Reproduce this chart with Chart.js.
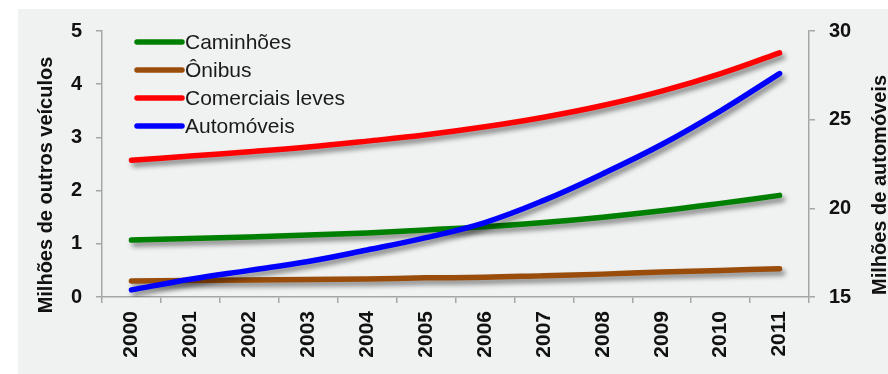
<!DOCTYPE html>
<html lang="pt-BR">
<head>
<meta charset="utf-8">
<title>Frota de veículos 2000-2011</title>
<script src="https://cdn.jsdelivr.net/npm/chart.js@4/dist/chart.umd.min.js"></script>
<style>
  html, body { margin: 0; padding: 0; background: #ffffff; }
  #wrap { width: 888px; height: 374px; }
</style>
</head>
<body>
<div id="wrap"><canvas id="frotaChart" width="888" height="374"></canvas></div>
<script>
// anos e séries (milhões de veículos)
const anos = ['2000', '2001', '2002', '2003', '2004', '2005', '2006', '2007', '2008', '2009', '2010', '2011'];
const caminhoes = [1.07, 1.10, 1.13, 1.165, 1.205, 1.26, 1.32, 1.40, 1.50, 1.62, 1.76, 1.91];
const onibus = [0.30, 0.31, 0.32, 0.33, 0.34, 0.36, 0.37, 0.40, 0.43, 0.47, 0.50, 0.53];
const comerciaisLeves = [2.57, 2.65, 2.73, 2.82, 2.93, 3.05, 3.20, 3.38, 3.60, 3.87, 4.20, 4.59];
const automoveis = [15.4, 16.0, 16.5, 17.0, 17.65, 18.35, 19.2, 20.45, 21.95, 23.6, 25.5, 27.6];

const nomes = ['Caminhões', 'Ônibus', 'Comerciais leves', 'Automóveis'];
const cores = ['#008000', '#9a4d0b', '#ff0000', '#0000ff'];

const eixoEsquerdo = { min: 0, max: 5, passo: 1 };
const eixoDireito = { min: 15, max: 30, passo: 5 };

const FONTE = "'Liberation Sans', Arial, Helvetica, sans-serif";
const CINZA_EIXO = '#a6a6a6';

// fundo cinza claro atrás do gráfico
const fundoPlugin = {
  id: 'fundo',
  beforeDraw(chart) {
    const ctx = chart.ctx;
    ctx.save();
    ctx.fillStyle = '#f0f1f1';
    ctx.fillRect(18, 9, chart.width - 18, chart.height - 9);
    ctx.restore();
  },
};

// sombra projetada sob cada linha
const sombraPlugin = {
  id: 'sombra',
  beforeDatasetDraw(chart) {
    const ctx = chart.ctx;
    ctx.save();
    ctx.shadowColor = 'rgba(0, 0, 0, 0.45)';
    ctx.shadowBlur = 5;
    ctx.shadowOffsetX = 3;
    ctx.shadowOffsetY = 4;
  },
  afterDatasetDraw(chart) {
    chart.ctx.restore();
  },
};

// legenda dentro da área do gráfico e títulos dos eixos
const legendaPlugin = {
  id: 'legendaInterna',
  afterDraw(chart) {
    const ctx = chart.ctx;
    const area = chart.chartArea;
    ctx.save();

    chart.data.datasets.forEach((ds, i) => {
      const y = area.top + 11 + i * 28;
      const x0 = area.left + 35;
      ctx.strokeStyle = ds.borderColor;
      ctx.lineWidth = 5.5;
      ctx.lineCap = 'round';
      ctx.beginPath();
      ctx.moveTo(x0, y);
      ctx.lineTo(x0 + 45, y);
      ctx.stroke();

      ctx.fillStyle = '#1a1a1a';
      ctx.font = `21px ${FONTE}`;
      ctx.textAlign = 'left';
      ctx.textBaseline = 'middle';
      ctx.fillText(ds.label, x0 + 48, y + 1);
    });

    const meioY = (area.top + area.bottom) / 2 + 21;
    ctx.fillStyle = '#111111';
    ctx.font = `bold 20px ${FONTE}`;
    ctx.textAlign = 'center';
    ctx.textBaseline = 'middle';

    ctx.save();
    ctx.translate(46, meioY);
    ctx.rotate(-Math.PI / 2);
    ctx.fillText('Milhões de outros veículos', 0, 0);
    ctx.restore();

    ctx.save();
    ctx.translate(880, meioY);
    ctx.rotate(-Math.PI / 2);
    ctx.fillText('Milhões de automóveis', 0, 0);
    ctx.restore();

    ctx.restore();
  },
};

const series = [caminhoes, onibus, comerciaisLeves, automoveis];

const datasets = series.map((valores, i) => ({
  label: nomes[i],
  data: valores,
  borderColor: cores[i],
  backgroundColor: cores[i],
  borderWidth: 5.5,
  borderCapStyle: 'round',
  borderJoinStyle: 'round',
  pointRadius: 0,
  tension: 0.4,
  yAxisID: i === 3 ? 'yDir' : 'yEsq',
  order: i === 3 ? 0 : i + 1, // automóveis por cima das demais
}));

const ctx = document.getElementById('frotaChart').getContext('2d');

new Chart(ctx, {
  type: 'line',
  data: { labels: anos, datasets: datasets },
  options: {
    responsive: false,
    animation: false,
    layout: { padding: { top: 31, left: 0, right: 0, bottom: 0 } },
    plugins: {
      legend: { display: false },
      tooltip: { enabled: false },
      title: { display: false },
    },
    scales: {
      x: {
        offset: true,
        afterFit: (scale) => { scale.height = 77; },
        grid: {
          offset: true,
          drawOnChartArea: false,
          drawTicks: true,
          tickLength: 6,
          color: CINZA_EIXO,
          lineWidth: 1.5,
        },
        border: { color: CINZA_EIXO, width: 1.5 },
        ticks: {
          minRotation: 90,
          maxRotation: 90,
          padding: 8,
          color: '#111111',
          font: { family: FONTE, size: 21, weight: 'bold' },
        },
      },
      yEsq: {
        position: 'left',
        min: eixoEsquerdo.min,
        max: eixoEsquerdo.max,
        afterFit: (scale) => { scale.width = 102; },
        grid: {
          drawOnChartArea: false,
          drawTicks: true,
          tickLength: 6,
          color: CINZA_EIXO,
          lineWidth: 1.5,
        },
        border: { color: CINZA_EIXO, width: 1.5 },
        ticks: {
          stepSize: eixoEsquerdo.passo,
          padding: 14,
          color: '#111111',
          font: { family: FONTE, size: 20, weight: 'bold' },
        },
      },
      yDir: {
        position: 'right',
        min: eixoDireito.min,
        max: eixoDireito.max,
        afterFit: (scale) => { scale.width = 79; },
        grid: {
          drawOnChartArea: false,
          drawTicks: true,
          tickLength: 6,
          color: CINZA_EIXO,
          lineWidth: 1.5,
        },
        border: { color: CINZA_EIXO, width: 1.5 },
        ticks: {
          stepSize: eixoDireito.passo,
          padding: 14,
          color: '#111111',
          font: { family: FONTE, size: 20, weight: 'bold' },
        },
      },
    },
  },
  plugins: [fundoPlugin, sombraPlugin, legendaPlugin],
});
</script>
</body>
</html>
